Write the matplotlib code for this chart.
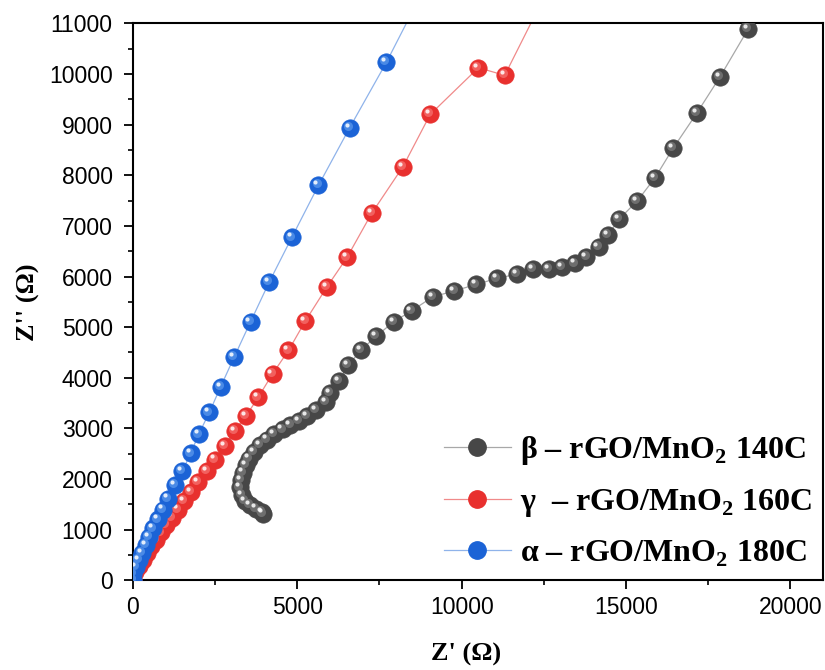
import matplotlib
matplotlib.use("Agg")
import matplotlib.pyplot as plt
from matplotlib.transforms import offset_copy
from matplotlib.ticker import MultipleLocator

plt.rcParams['font.family'] = ['Liberation Sans', 'DejaVu Sans']
plt.rcParams['mathtext.fontset'] = 'custom'
plt.rcParams['mathtext.rm'] = 'Liberation Serif'
plt.rcParams['mathtext.bf'] = 'Liberation Serif:bold'

# Nyquist data (Z' and Z'' in ohm)
beta_x = [3964, 3915, 3742, 3560, 3408, 3308, 3256, 3278, 3338, 3429, 3539, 3691,
          3863, 4067, 4288, 4552, 4795, 5056, 5300, 5584, 5888, 6009, 6270, 6555,
          6938, 7405, 7930, 8476, 9124, 9782, 10440, 11065, 11672, 12158, 12665,
          13059, 13444, 13797, 14162, 14446, 14790, 15345, 15882, 16428, 17147,
          17854, 18713]
beta_y = [1318, 1350, 1416, 1482, 1568, 1680, 1832, 1976, 2128, 2273, 2404, 2536,
          2668, 2780, 2885, 2978, 3063, 3149, 3247, 3360, 3524, 3702, 3939, 4249,
          4545, 4822, 5105, 5322, 5599, 5717, 5843, 5962, 6047, 6140, 6140,
          6180, 6258, 6390, 6575, 6818, 7134, 7497, 7951, 8531, 9223,
          9941, 10889]

gamma_x = [0, 70, 182, 303, 425, 555, 698, 850, 1011, 1184, 1366, 1557, 1770,
           1991, 2245, 2508, 2792, 3095, 3438, 3812, 4249, 4734, 5250, 5906,
           6514, 7263, 8213, 9045, 10510, 11310, 12450]
gamma_y = [0, 164, 283, 409, 540, 672, 804, 943, 1087, 1239, 1397, 1568, 1746,
           1943, 2160, 2385, 2655, 2951, 3241, 3610, 4077, 4539, 5125, 5797,
           6377, 7247, 8168, 9203, 10125, 9975, 11450]

alpha_x = [0, 18, 100, 191, 291, 395, 504, 625, 759, 910, 1081, 1284, 1505,
           1760, 2000, 2326, 2670, 3085, 3580, 4147, 4835, 5645, 6595, 7710, 8750]
alpha_y = [0, 132, 263, 395, 540, 692, 856, 1022, 1200, 1397, 1614, 1877, 2160,
           2504, 2879, 3314, 3820, 4413, 5105, 5889, 6772, 7800, 8940, 10230, 11550]

labels = [r"β – rGO/MnO$_\mathbf{2}$ 140C",
          r"γ  – rGO/MnO$_\mathbf{2}$ 160C",
          r"α – rGO/MnO$_\mathbf{2}$ 180C"]
dot_colors = ['#474747', '#e8302e', '#1b63d6']
mid_colors = ['#6e6e6e', '#f2605e', '#4a8ae6']
line_colors = ['#a8a8a8', '#f08a8a', '#8fb3ea']

fig = plt.figure(figsize=(8.25, 6.7), dpi=100)
ax = fig.add_axes([0.161, 0.134, 0.837, 0.831])

series = [(beta_x, beta_y), (gamma_x, gamma_y), (alpha_x, alpha_y)]
handles = []
for (xs, ys), lab, c, cm, cl in zip(series, labels, dot_colors, mid_colors, line_colors):
    ax.plot(xs, ys, '-', color=cl, lw=0.9, zorder=2)
    ax.plot(xs, ys, 'o', ms=12.5, mfc=c, mec=c, mew=0.5, zorder=3)
    # glossy look: lighter core and a small highlight shifted up-left
    ax.plot(xs, ys, 'o', ms=6.5, mfc=cm, mec='none', zorder=3,
            transform=offset_copy(ax.transData, fig=fig, x=-1.4, y=1.4, units='points'))
    ax.plot(xs, ys, 'o', ms=3, mfc='white', mec='none', alpha=0.85, zorder=3,
            transform=offset_copy(ax.transData, fig=fig, x=-2.2, y=2.2, units='points'))
    h, = ax.plot([], [], '-o', color=cl, lw=0.9, ms=12.5, mfc=c, mec=c, label=lab)
    handles.append(h)

ax.set_xlim(0, 21000)
ax.set_ylim(0, 11000)
ax.xaxis.set_major_locator(MultipleLocator(5000))
ax.xaxis.set_minor_locator(MultipleLocator(2500))
ax.yaxis.set_major_locator(MultipleLocator(1000))
ax.yaxis.set_minor_locator(MultipleLocator(500))
ax.tick_params(which='major', direction='out', length=6.5, width=1.3,
               labelsize=16.5)
ax.tick_params(axis='y', which='major', pad=8)
ax.tick_params(axis='x', which='major', pad=5)
ax.tick_params(which='minor', direction='out', length=3.5, width=1.2)
for s in ax.spines.values():
    s.set_linewidth(1.5)

ax.set_xlabel("Z' (Ω)", fontfamily='Liberation Serif', fontweight='bold',
              fontsize=19)
ax.set_ylabel("Z'' (Ω)", fontfamily='Liberation Serif', fontweight='bold',
              fontsize=19)
ax.xaxis.set_label_coords(0.483, -0.112)
ax.yaxis.set_label_coords(-0.135, 0.5)

ax.legend(handles=handles, loc='lower right', frameon=False,
          prop={'family': 'Liberation Serif', 'weight': 'bold', 'size': 23},
          handlelength=2.1, labelspacing=0.62, handletextpad=0.3,
          borderaxespad=0.0, borderpad=0.35)

fig.savefig("out.png", dpi=100)
